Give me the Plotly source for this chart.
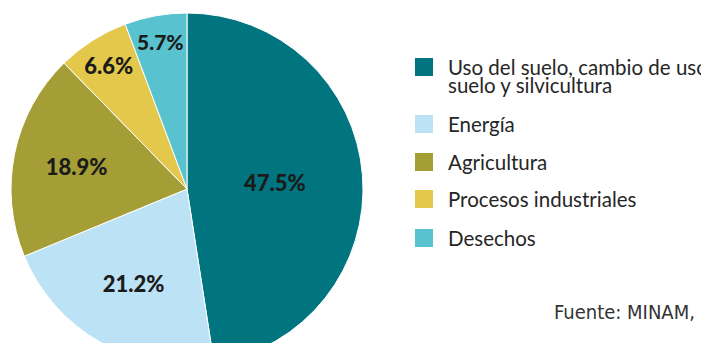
import plotly.graph_objects as go

# Emisiones de GEI por sector (%)
sectores = [
    "Uso del suelo, cambio de uso del<br>suelo y silvicultura",
    "Energía",
    "Agricultura",
    "Procesos industriales",
    "Desechos",
]
porcentajes = [47.5, 21.2, 18.9, 6.6, 5.7]
colores = ["#00757f", "#bce2f6", "#a59e37", "#e3c84b", "#58c3cf"]
fuente = "Fuente: MINAM,"

W, H = 701, 378


def py(y):
    """Convierte una coordenada en píxeles (desde arriba) a fracción de papel."""
    return (H - y) / H


fig = go.Figure(
    go.Pie(
        labels=sectores,
        values=porcentajes,
        sort=False,
        direction="clockwise",
        rotation=0,
        marker=dict(colors=colores, line=dict(color="white", width=1)),
        texttemplate="%{value:.1f}%",
        textposition="inside",
        insidetextorientation="horizontal",
        textfont=dict(family="Lato", size=22, color="#1b1b1b", weight=900),
        domain=dict(x=[11 / W, 363 / W], y=[py(365), py(13)]),
        hoverinfo="skip",
        showlegend=False,
    )
)

# Leyenda dibujada a mano: cuadro de color + texto (líneas con interlineado ajustado)
ys = [67, 124, 162, 199, 238]
for nombre, color, y in zip(sectores, colores, ys):
    fig.add_shape(
        type="rect", xref="paper", yref="paper",
        x0=415 / W, x1=433 / W, y0=py(y + 9), y1=py(y - 9),
        fillcolor=color, line=dict(width=0),
    )
    for k, linea in enumerate(nombre.split("<br>")):
        fig.add_annotation(
            xref="paper", yref="paper", x=446 / W, y=py(y + 18 * k),
            xanchor="left", yanchor="middle", align="left",
            text=linea, showarrow=False,
            font=dict(family="Lato", size=20.5, color="#262626"),
        )

fig.add_annotation(
    xref="paper", yref="paper", x=697 / W, y=py(312),
    xanchor="right", yanchor="middle", text=fuente, showarrow=False,
    font=dict(family="DejaVu Sans Condensed, Roboto, sans-serif", size=20,
              color="#333333"),
)

fig.update_layout(
    width=W, height=H,
    margin=dict(l=0, r=0, t=0, b=0),
    paper_bgcolor="white", plot_bgcolor="white",
)

fig.write_html("out.html")
